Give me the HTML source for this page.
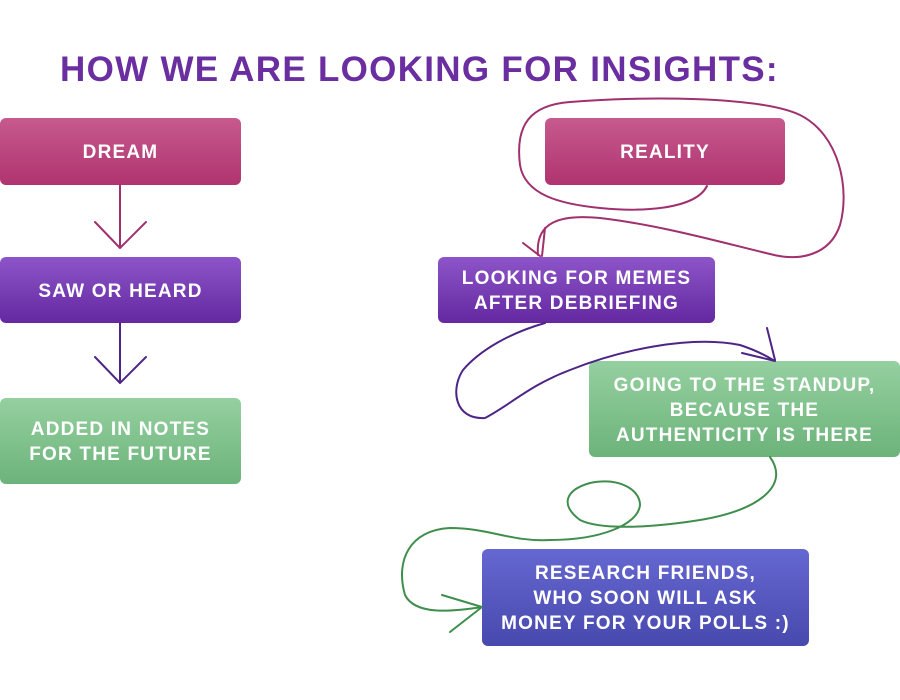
<!DOCTYPE html>
<html><head><style>
body{margin:0;width:900px;height:700px;background:#fff;position:relative;overflow:hidden;font-family:"Liberation Sans",sans-serif}
.t{position:absolute;left:60px;top:50px;font-size:35px;font-weight:bold;color:#6a2ea0;letter-spacing:1.3px;white-space:nowrap}
.b{position:absolute;border-radius:6px;color:#fff;font-weight:bold;font-size:19px;letter-spacing:1.2px;display:flex;align-items:center;justify-content:center;text-align:center;line-height:25px;padding-top:2px;box-sizing:border-box}
.p{background:linear-gradient(#c65a8f,#b0346f)}
.v{background:linear-gradient(#8d55c9,#6428a0)}
.g{background:linear-gradient(#95d0a0,#6cb37a)}
.u{background:linear-gradient(#6668d2,#4749ad)}
svg{position:absolute;left:0;top:0}
</style></head><body>
<div class="t">HOW WE ARE LOOKING FOR INSIGHTS:</div>
<div class="b p" style="left:0;top:118px;width:241px;height:67px">DREAM</div>
<div class="b v" style="left:0;top:257px;width:241px;height:66px">SAW OR HEARD</div>
<div class="b g" style="left:0;top:398px;width:241px;height:86px">ADDED IN NOTES<br>FOR THE FUTURE</div>
<div class="b p" style="left:545px;top:118px;width:240px;height:67px">REALITY</div>
<div class="b v" style="left:438px;top:257px;width:277px;height:66px">LOOKING FOR MEMES<br>AFTER DEBRIEFING</div>
<div class="b g" style="left:589px;top:361px;width:311px;height:96px">GOING TO THE STANDUP,<br>BECAUSE THE<br>AUTHENTICITY IS THERE</div>
<div class="b u" style="left:482px;top:549px;width:327px;height:97px">RESEARCH FRIENDS,<br>WHO SOON WILL ASK<br>MONEY FOR YOUR POLLS :)</div>
<svg width="900" height="700" fill="none" stroke-width="2" stroke-linecap="round" stroke-linejoin="round">
<path d="M120 185V248M95 222L120 248L146 222" stroke="#a0306e"/>
<path d="M120 323V383M95 357L120 383L146 357" stroke="#4d2586"/>
<path d="M707 186C695 210 640 212 600 208C560 204 525 195 520 165C515 125 530 105 570 102C640 96 760 96 800 115C840 135 850 190 840 225C830 255 800 262 770 254C720 242 660 225 600 218C560 214 535 222 538 255M523 243L540 256M545 228L542 256" stroke="#a0306e"/>
<path d="M545 323C510 333 480 350 463 370C450 390 455 420 485 418C510 405 530 385 570 370C620 350 690 335 740 345C755 350 765 355 773 360M742 353L775 361M767 328L775 360" stroke="#4d2586"/>
<path d="M770 457C790 485 760 510 700 520C650 528 600 530 580 520C560 505 565 490 590 483C620 477 640 490 640 505C638 525 600 540 550 540C510 542 490 528 450 528C410 530 395 560 405 595C415 615 450 612 482 607M442 595L482 607L450 632" stroke="#3f8e4d"/>
</svg>
</body></html>
